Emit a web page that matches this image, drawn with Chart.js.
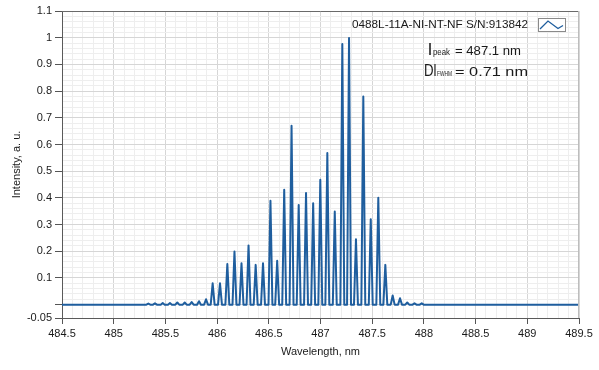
<!DOCTYPE html>
<html>
<head>
<meta charset="utf-8">
<script src="https://cdn.jsdelivr.net/npm/chart.js@4.4.1/dist/chart.umd.min.js"></script>
<style>
  html, body { margin: 0; padding: 0; background: #ffffff; }
  #wrap { width: 599px; height: 370px; }
</style>
</head>
<body>
<div id="wrap"><canvas id="c" width="599" height="370"></canvas></div>
<script>
// ---- data ----
const peakWavelengths = [
  485.335, 485.399, 485.474, 485.544, 485.615, 485.687, 485.754, 485.825, 485.893,
  485.957, 486.028, 486.099, 486.168, 486.236, 486.304, 486.373, 486.444, 486.516,
  486.581, 486.649, 486.720, 486.789, 486.860, 486.929, 486.998, 487.066, 487.138,
  487.211, 487.276, 487.343, 487.414, 487.486, 487.559, 487.627, 487.698, 487.769,
  487.839, 487.909, 487.979
];
const peakIntensities = [
  0.004, 0.005, 0.006, 0.006, 0.008, 0.008, 0.010, 0.013, 0.020,
  0.080, 0.080, 0.152, 0.199, 0.155, 0.222, 0.149, 0.155, 0.389,
  0.164, 0.430, 0.670, 0.373, 0.418, 0.380, 0.468, 0.568, 0.349,
  0.976, 0.999, 0.245, 0.780, 0.320, 0.400, 0.149, 0.034, 0.024,
  0.008, 0.005, 0.005
];
const xRange = [484.5, 489.5];
const yRange = [-0.05, 1.1];
const xTickLabels = ['484.5','485','485.5','486','486.5','487','487.5','488','488.5','489','489.5'];
const yTickLabels = ['-0.05','','0.1','0.2','0.3','0.4','0.5','0.6','0.7','0.8','0.9','1','1.1'];
const yTickValues = [-0.05, 0, 0.1, 0.2, 0.3, 0.4, 0.5, 0.6, 0.7, 0.8, 0.9, 1, 1.1];
const legendLabel = '0488L-11A-NI-NT-NF S/N:913842';
const peakText = ['l', 'peak', '= 487.1 nm'];
const fwhmText = ['Dl', 'FWHM', '= 0.71 nm'];

// ---- build line points from the peak table ----
const halfWidth = 0.019;
const points = [{x: xRange[0], y: 0}];
peakWavelengths.forEach((w, i) => {
  points.push({x: w - halfWidth, y: 0});
  points.push({x: w, y: peakIntensities[i]});
  points.push({x: w + halfWidth, y: 0});
});
points.push({x: xRange[1], y: 0});

const FONT = "'Liberation Sans', Arial, sans-serif";
const LINE = '#1f5e9e';

const xMajorVals = xTickLabels.map(Number);
function isXMajor(v) { return xMajorVals.some(m => Math.abs(m - v) < 1e-6); }
function isYMajor(v) { return yTickValues.some(m => Math.abs(m - v) < 1e-6); }

function fitText(ctx, text, x, y, font, width) {
  ctx.font = font;
  const w = ctx.measureText(text).width;
  ctx.save();
  ctx.translate(x, y);
  ctx.scale(width / w, 1);
  ctx.fillText(text, 0, 0);
  ctx.restore();
}

const overlay = {
  id: 'overlay',
  afterDraw(chart) {
    const {ctx, chartArea: a} = chart;
    ctx.save();
    // top & right frame
    ctx.lineWidth = 1;
    ctx.strokeStyle = '#6a6a6a';
    ctx.beginPath(); ctx.moveTo(a.left, a.top + 0.5); ctx.lineTo(a.right, a.top + 0.5); ctx.stroke();
    ctx.strokeStyle = '#bdbdbd';
    ctx.beginPath(); ctx.moveTo(a.right - 0.5, a.top); ctx.lineTo(a.right - 0.5, a.bottom); ctx.stroke();

    ctx.fillStyle = '#1a1a1a';
    ctx.textBaseline = 'alphabetic';
    ctx.textAlign = 'left';
    // legend label
    fitText(ctx, legendLabel, 352, 28, '11.5px ' + FONT, 176);
    // legend swatch
    ctx.fillStyle = '#ffffff';
    ctx.fillRect(538, 18, 27, 13);
    ctx.strokeStyle = '#8a8a8a';
    ctx.strokeRect(538.5, 18.5, 27, 13);
    ctx.strokeStyle = LINE; ctx.lineWidth = 1.3;
    ctx.beginPath();
    ctx.moveTo(540, 29); ctx.lineTo(548, 21); ctx.lineTo(558, 28.5); ctx.lineTo(563, 25.5);
    ctx.stroke();

    ctx.fillStyle = '#1a1a1a';
    // lambda peak line
    fitText(ctx, peakText[0], 428, 54.5, '16px ' + FONT, 4);
    fitText(ctx, peakText[1], 433, 54.5, '8.5px ' + FONT, 17);
    fitText(ctx, peakText[2], 455, 54.5, '13px ' + FONT, 66);
    // delta lambda FWHM line
    fitText(ctx, fwhmText[0], 424, 76, '16px ' + FONT, 12.5);
    fitText(ctx, fwhmText[1], 437, 76, '7.5px ' + FONT, 15);
    fitText(ctx, fwhmText[2], 455, 76, '13.5px ' + FONT, 73);
    ctx.restore();
  }
};

Chart.defaults.font.family = FONT;
Chart.defaults.font.size = 11;
Chart.defaults.color = '#1a1a1a';

new Chart(document.getElementById('c'), {
  type: 'line',
  data: {
    datasets: [{
      data: points,
      borderColor: LINE,
      borderWidth: 2,
      borderJoinStyle: 'round',
      pointRadius: 0,
      tension: 0,
      fill: false
    }]
  },
  options: {
    responsive: false,
    animation: false,
    events: [],
    layout: { padding: { left: 0, right: 20, top: 11, bottom: 0 } },
    plugins: { legend: { display: false }, tooltip: { enabled: false } },
    scales: {
      x: {
        type: 'linear',
        min: xRange[0], max: xRange[1],
        afterBuildTicks(scale) {
          const t = [];
          for (let i = 0; i <= 50; i++) t.push({value: Math.round((xRange[0] + i * 0.1) * 10) / 10});
          scale.ticks = t;
        },
        afterFit(scale) { scale.height = 52; },
        ticks: {
          autoSkip: false, maxRotation: 0, minRotation: 0, padding: 3,
          color: '#1a1a1a',
          callback(v) {
            const idx = xMajorVals.findIndex(m => Math.abs(m - v) < 1e-6);
            return idx >= 0 ? xTickLabels[idx] : '';
          }
        },
        grid: {
          color: c => isXMajor(c.tick.value) ? '#d6d6d6' : '#eeeeee',
          tickColor: c => isXMajor(c.tick.value) ? '#555555' : 'rgba(0,0,0,0)',
          tickLength: 6
        },
        border: { color: '#5a5a5a', width: 1 },
        title: { display: true, text: 'Wavelength, nm', color: '#1a1a1a', font: { size: 11 }, padding: { top: 4, bottom: 11 } }
      },
      y: {
        min: yRange[0], max: yRange[1],
        afterBuildTicks(scale) {
          const t = [{value: yRange[0]}];
          for (let i = 0; i <= 55; i++) t.push({value: i / 50});
          scale.ticks = t;
        },
        afterFit(scale) { scale.width = 62; },
        ticks: {
          autoSkip: false, padding: 3,
          color: '#1a1a1a',
          callback(v) {
            const idx = yTickValues.findIndex(m => Math.abs(m - v) < 1e-6);
            return idx >= 0 ? yTickLabels[idx] : '';
          }
        },
        grid: {
          color: c => isYMajor(c.tick.value) ? '#d6d6d6' : '#eeeeee',
          tickColor: c => isYMajor(c.tick.value) ? '#555555' : 'rgba(0,0,0,0)',
          tickLength: 7
        },
        border: { color: '#5a5a5a', width: 1 },
        title: { display: true, text: 'Intensity, a. u.', color: '#1a1a1a', font: { size: 11 }, padding: { top: 10, bottom: 0 } }
      }
    }
  },
  plugins: [overlay]
});
</script>
</body>
</html>
